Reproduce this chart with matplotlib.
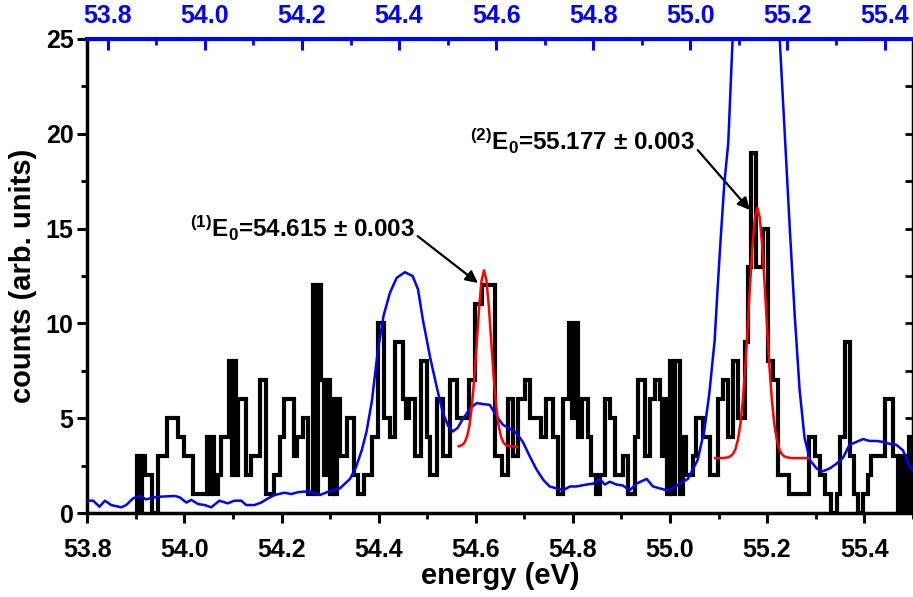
import matplotlib
matplotlib.use("Agg")
import matplotlib.pyplot as plt
from matplotlib.ticker import MultipleLocator, FormatStrFormatter

plt.rcParams['font.family'] = 'Liberation Sans'
plt.rcParams['font.weight'] = 'bold'
plt.rcParams['axes.labelweight'] = 'bold'
plt.rcParams['mathtext.fontset'] = 'custom'
plt.rcParams['mathtext.rm'] = 'Liberation Sans:bold'
plt.rcParams['mathtext.it'] = 'Liberation Sans:bold'
plt.rcParams['mathtext.bf'] = 'Liberation Sans:bold'
plt.rcParams['mathtext.default'] = 'rm'

# measured histogram (bin left edges, counts), last edge closes the last bin
hist_edges = [53.900, 53.903, 53.908, 53.912, 53.918, 53.933, 53.945, 53.965, 53.987, 53.998,
              54.017, 54.046, 54.051, 54.055, 54.061, 54.069, 54.076, 54.092, 54.097, 54.101,
              54.106, 54.110, 54.127, 54.138, 54.156, 54.168, 54.185, 54.196, 54.206, 54.226,
              54.231, 54.245, 54.254, 54.265, 54.270, 54.274, 54.282, 54.287, 54.292, 54.299,
              54.306, 54.311, 54.315, 54.320, 54.334, 54.349, 54.357, 54.370, 54.387, 54.399,
              54.410, 54.423, 54.433, 54.450, 54.457, 54.462, 54.475, 54.488, 54.499, 54.505,
              54.520, 54.532, 54.546, 54.562, 54.587, 54.598, 54.613, 54.639, 54.653, 54.667,
              54.677, 54.688, 54.701, 54.712, 54.735, 54.745, 54.759, 54.769, 54.780, 54.793,
              54.799, 54.804, 54.811, 54.818, 54.831, 54.838, 54.848, 54.855, 54.866, 54.876,
              54.886, 54.903, 54.913, 54.927, 54.934, 54.949, 54.959, 54.969, 54.979, 54.984,
              54.988, 54.993, 55.000, 55.005, 55.010, 55.020, 55.027, 55.034, 55.047, 55.054,
              55.068, 55.082, 55.099, 55.109, 55.119, 55.130, 55.140, 55.154, 55.161, 55.167,
              55.178, 55.192, 55.202, 55.212, 55.222, 55.245, 55.287, 55.298, 55.308, 55.319,
              55.332, 55.343, 55.350, 55.360, 55.370, 55.380, 55.387, 55.398, 55.408, 55.415,
              55.442, 55.459, 55.469, 55.474, 55.479, 55.484, 55.489, 55.493, 55.500]
hist_counts = [0, 3, 0, 3, 2, 0, 3, 5, 4, 3,
               1, 4, 1, 4, 1, 2, 4, 8, 2, 8,
               2, 6, 2, 3, 7, 1, 2, 4, 6, 3,
               4, 5, 1, 12, 1, 12, 7, 2, 7, 1,
               6, 1, 6, 3, 5, 2, 1, 2, 4, 10,
               5, 4, 9, 6, 5, 6, 3, 8, 4, 2,
               6, 3, 7, 5, 7, 11, 12, 3, 2, 6,
               3, 6, 7, 5, 4, 6, 4, 1, 6, 10,
               5, 10, 4, 6, 4, 2, 1, 2, 6, 5,
               2, 3, 1, 4, 7, 3, 6, 7, 6, 3,
               6, 1, 8, 1, 8, 1, 4, 2, 3, 5,
               4, 2, 6, 7, 4, 8, 5, 9, 13, 19,
               13, 15, 8, 7, 2, 1, 4, 3, 2, 1,
               0, 1, 4, 9, 3, 1, 0, 1, 2, 3,
               6, 3, 0, 3, 0, 3, 0, 4]

# blue reference curve, read against the top (blue) axis
blue_x = [53.759, 53.770, 53.783, 53.794, 53.807, 53.828, 53.838, 53.852, 53.866, 53.879,
          53.893, 53.907, 53.938, 53.948, 53.962, 53.972, 53.986, 54.000, 54.013, 54.030,
          54.047, 54.061, 54.075, 54.085, 54.102, 54.116, 54.130, 54.144, 54.164, 54.178,
          54.192, 54.216, 54.237, 54.257, 54.278, 54.299, 54.311, 54.323, 54.333, 54.344,
          54.356, 54.368, 54.381, 54.395, 54.412, 54.428, 54.439, 54.449, 54.464, 54.478,
          54.490, 54.501, 54.511, 54.521, 54.531, 54.546, 54.560, 54.572, 54.587, 54.601,
          54.614, 54.628, 54.642, 54.655, 54.669, 54.683, 54.697, 54.710, 54.724, 54.738,
          54.752, 54.765, 54.786, 54.800, 54.813, 54.824, 54.834, 54.848, 54.861, 54.875,
          54.889, 54.910, 54.923, 54.937, 54.951, 54.964, 54.978, 54.995, 55.015, 55.029,
          55.039, 55.050, 55.056, 55.063, 55.070, 55.078, 55.087, 55.102, 55.133, 55.163,
          55.184, 55.194, 55.205, 55.215, 55.225, 55.235, 55.246, 55.260, 55.273, 55.287,
          55.301, 55.314, 55.328, 55.342, 55.356, 55.369, 55.383, 55.397, 55.410, 55.424,
          55.438, 55.452, 55.458]
blue_y = [0.65, 0.65, 0.33, 0.65, 0.42, 0.30, 0.42, 0.77, 0.90, 0.72,
          0.81, 0.86, 0.90, 0.83, 0.55, 0.69, 0.47, 0.42, 0.30, 0.65,
          0.51, 0.65, 0.65, 0.42, 0.42, 0.55, 0.77, 0.95, 1.07, 1.00,
          1.10, 1.15, 0.95, 1.15, 1.30, 1.80, 2.40, 3.30, 4.30, 5.90,
          8.50, 10.4, 11.6, 12.4, 12.7, 12.5, 11.8, 10.2, 8.2, 6.6,
          5.3, 4.6, 4.3, 4.5, 4.95, 5.5, 5.8, 5.75, 5.7, 5.1,
          4.65, 4.45, 4.2, 3.75, 3.0, 2.3, 1.75, 1.4, 1.3, 1.2,
          1.4, 1.4, 1.5, 1.55, 1.8, 1.5, 1.65, 1.5, 1.45, 1.2,
          1.55, 1.8, 1.4, 1.3, 1.2, 1.3, 1.55, 1.8, 2.8, 4.4,
          6.3, 9.1, 11.8, 14.7, 17.4, 19.5, 25.0, 29.0, 32.0, 29.0,
          25.0, 20.2, 14.9, 10.4, 6.5, 4.0, 2.8, 2.35, 2.2, 2.35,
          2.6, 2.9, 3.6, 3.75, 3.9, 3.8, 3.8, 3.75, 3.65, 3.6,
          3.3, 2.45, 2.3]

# red fitted peaks
fit1_x = [54.565, 54.572, 54.577, 54.582, 54.587, 54.592, 54.597, 54.602, 54.607, 54.612,
          54.617, 54.622, 54.627, 54.632, 54.637, 54.642, 54.647, 54.652, 54.657, 54.662,
          54.672, 54.685]
fit1_y = [3.52, 3.58, 3.72, 4.02, 4.62, 5.65, 7.14, 8.99, 10.86, 12.27,
          12.8, 12.27, 10.86, 8.99, 7.14, 5.65, 4.62, 4.02, 3.72, 3.58,
          3.51, 3.50]
fit2_x = [55.093, 55.110, 55.120, 55.125, 55.130, 55.135, 55.140, 55.145, 55.150, 55.155,
          55.160, 55.165, 55.170, 55.175, 55.180, 55.185, 55.190, 55.195, 55.200, 55.205,
          55.210, 55.215, 55.220, 55.225, 55.230, 55.235, 55.240, 55.250, 55.285]
fit2_y = [2.90, 2.90, 2.94, 3.00, 3.12, 3.38, 3.87, 4.68, 5.94, 7.66,
          9.77, 12.05, 14.11, 15.57, 16.1, 15.57, 14.11, 12.05, 9.77, 7.66,
          5.94, 4.68, 3.87, 3.38, 3.12, 3.00, 2.94, 2.90, 2.90]

fig = plt.figure(figsize=(9.13, 5.97), dpi=100)
ax = fig.add_axes([0.0957, 0.1407, 0.904, 0.794])

ax.stairs(hist_counts, hist_edges, color='black', lw=3.0, baseline=0, zorder=3)

ax.set_xlim(53.8, 55.5)
ax.set_ylim(0, 25)
ax.xaxis.set_major_locator(MultipleLocator(0.2))
ax.xaxis.set_minor_locator(MultipleLocator(0.1))
ax.xaxis.set_major_formatter(FormatStrFormatter('%.1f'))
ax.yaxis.set_major_locator(MultipleLocator(5))
ax.yaxis.set_minor_locator(MultipleLocator(2.5))
ax.tick_params(axis='both', which='major', direction='out', length=7, width=2.2,
               labelsize=18, top=False, right=False)
ax.tick_params(axis='both', which='minor', direction='out', length=4, width=2,
               top=False, right=False)
ax.tick_params(axis='x', pad=11)
ax.tick_params(axis='y', pad=3)
for s in ['left', 'bottom', 'right']:
    ax.spines[s].set_linewidth(2.5)
ax.spines['top'].set_visible(False)
ax.set_xlabel('energy (eV)', fontsize=21, labelpad=0)
ax.set_ylabel('counts (arb. units)', fontsize=21, labelpad=6)

sec = ax.secondary_yaxis('right')
sec.yaxis.set_major_locator(MultipleLocator(2.5))
sec.tick_params(direction='in', length=6, width=2, labelright=False)

ax2 = ax.twiny()
ax2.plot(blue_x, blue_y, color='#0000ff', lw=1.8, zorder=4)
ax2.set_xlim(53.758, 55.458)
ax2.set_ylim(0, 25)
ax2.xaxis.set_major_locator(MultipleLocator(0.2))
ax2.xaxis.set_minor_locator(MultipleLocator(0.1))
ax2.xaxis.set_major_formatter(FormatStrFormatter('%.1f'))
ax2.tick_params(axis='x', which='major', direction='in', length=8, width=2.2,
                colors='#0000ff', labelsize=18, pad=8)
ax2.tick_params(axis='x', which='minor', direction='in', length=4, width=2,
                colors='#0000ff')
ax2.spines['top'].set_color('#0000ff')
ax2.spines['top'].set_linewidth(3)
for s in ['left', 'bottom', 'right']:
    ax2.spines[s].set_visible(False)

ax2.plot(fit1_x, fit1_y, color='red', lw=1.8, transform=ax.transData, zorder=5)
ax2.plot(fit2_x, fit2_y, color='red', lw=1.8, transform=ax.transData, zorder=5)

ax2.annotate(r'$^{(1)}$E$_0$=54.615 ± 0.003', xy=(54.6045, 12.13), xycoords=ax.transData,
             xytext=(54.011, 14.56), textcoords=ax.transData, fontsize=17.5,
             va='baseline', ha='left',
             arrowprops=dict(arrowstyle='-|>', color='black', lw=1.6, mutation_scale=18,
                             shrinkA=0, shrinkB=0, relpos=(1.0, 0.3)))
ax2.annotate(r'$^{(2)}$E$_0$=55.177 ± 0.003', xy=(55.1645, 15.98), xycoords=ax.transData,
             xytext=(54.588, 19.15), textcoords=ax.transData, fontsize=17.5,
             va='baseline', ha='left',
             arrowprops=dict(arrowstyle='-|>', color='black', lw=1.6, mutation_scale=18,
                             shrinkA=0, shrinkB=0, relpos=(1.0, 0.3)))

fig.savefig('out.png', dpi=100)
